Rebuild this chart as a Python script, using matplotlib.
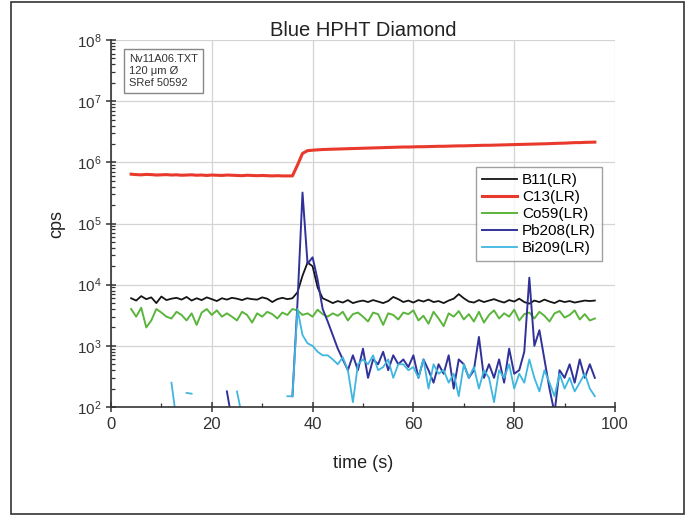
import numpy as np
import matplotlib
matplotlib.use("Agg")
import matplotlib.pyplot as plt
from matplotlib.patches import Rectangle
from matplotlib.ticker import LogLocator, NullFormatter, MultipleLocator

plt.rcParams['font.family'] = ['Liberation Sans', 'DejaVu Sans']

# acquisition time grid (s)
time = np.arange(4, 97, 1.0)
nan = np.nan

b11 = [6000, 5500, 6500, 5800, 6200, 5000, 6400, 5600, 5900, 6100, 5700, 6300, 5500,
       6000, 5600, 6200, 5800, 5400, 6000, 5700, 6100, 5900, 5600, 6000, 5800, 5700,
       6200, 5900, 5200, 5800, 6100, 5800, 6000,
       7500, 14000, 23000, 20000, 9000, 6000, 5500, 5000,
       5400, 5100, 5600, 5000, 5300, 5500, 5200, 5600, 5300, 5000, 5400, 6300, 5800,
       5200, 5500, 5100, 5600, 5300, 5700, 5200, 5400, 5000, 5500, 5900, 7000, 6000,
       5300, 5100, 5600, 5200, 5500, 5800, 5400, 5100, 5600, 5300, 5900, 5200, 4900,
       5500, 5200, 5700, 5300, 5000, 5500, 5200, 5400, 5100, 5300, 5500, 5400, 5500]

c13 = [640000, 630000, 625000, 635000, 630000, 620000, 625000, 630000, 620000, 625000,
       615000, 620000, 625000, 615000, 620000, 610000, 620000, 615000, 610000, 620000,
       615000, 610000, 605000, 615000, 610000, 605000, 610000, 605000, 600000, 605000,
       600000, 600000, 600000,
       900000, 1400000, 1550000, 1580000, 1600000, 1620000, 1630000, 1640000,
       1650000, 1660000, 1670000, 1680000, 1690000, 1700000, 1710000, 1720000, 1730000,
       1740000, 1750000, 1760000, 1770000, 1780000, 1780000, 1790000, 1800000, 1800000,
       1810000, 1820000, 1830000, 1830000, 1840000, 1850000, 1860000, 1860000, 1870000,
       1880000, 1890000, 1900000, 1900000, 1910000, 1920000, 1930000, 1940000, 1950000,
       1960000, 1970000, 1980000, 1990000, 2000000, 2010000, 2020000, 2040000, 2050000,
       2060000, 2080000, 2100000, 2100000, 2120000, 2130000, 2140000]

co59 = [4000, 3000, 4200, 2000, 2600, 4000, 3500, 3000, 2800, 3600, 3200, 2600, 3400,
        2200, 3500, 4000, 3200, 3800, 3000, 3400, 3000, 2600, 3600, 3200, 2400, 3400,
        3000, 3600, 3300, 2800, 3500, 3200, 4000,
        3800, 3200, 3400, 3000, 3900, 3300, 3000, 3400,
        3100, 3600, 2600, 3300, 3500, 3000, 2500, 3500, 3300, 2200, 3400, 3200, 2700,
        3500, 3300, 3800, 2600, 3100, 2300, 3600, 2800, 2100, 3400, 3000, 3700, 2700,
        3300, 2500, 3600, 2400, 3200, 3800, 2800, 3400, 3000, 3900, 2600, 3300, 3500,
        2800, 3600, 3100, 2500, 3400, 3700, 2900, 3200, 3800, 2700, 3300, 2600, 2800]

pb208 = [nan] * 19 + [180, 60] + [nan] * 11 + [150,
         5000, 320000, 22000, 28000, 12000, 4000, 2500, 1500,
         900, 600, 400, 700, 400, 900, 300, 600, 500, 800, 400, 700, 500,
         600, 450, 700, 300, 600, 400, 250, 500, 350, 700, 200, 600, 500,
         300, 400, 1400, 300, 500, 300, 600, 250, 900, 350, 400, 800, 13000,
         1000, 1800, 600, 200, 80, 400, 300, 500, 250, 600, 300, 500, 300]

bi209 = [nan] * 8 + [250, 60, nan, 170, 165] + [nan] * 8 + [180, 70] + [nan] * 8 + [150, 150,
         4000, 1500, 1100, 1000, 800, 700, 700, 600,
         500, 650, 400, 120, 500, 600, 500, 700, 400, 450, 600, 300, 500,
         500, 400, 450, 300, 600, 200, 500, 350, 400, 250, 350, 150, 500,
         300, 450, 200, 400, 300, 120, 400, 300, 500, 200, 350, 250, 600,
         300, 180, 400, 250, 150, 350, 200, 300, 180, 250, 350, 200, 150]

series = [
    ("B11(LR)", b11, "#151515", 1.3),
    ("C13(LR)", c13, "#e8392c", 2.2),
    ("Co59(LR)", co59, "#5bb53c", 1.4),
    ("Pb208(LR)", pb208, "#30329a", 1.4),
    ("Bi209(LR)", bi209, "#3fb6e0", 1.3),
]

fig = plt.figure(figsize=(6.88, 5.16), dpi=100)
ax = fig.add_axes([0.1613, 0.2112, 0.7326, 0.7113])

for label, vals, color, lw in series:
    ax.plot(time, np.asarray(vals, dtype=float), color=color, lw=lw, label=label)

ax.set_yscale("log")
ax.set_ylim(1e2, 1e8)
ax.set_xlim(0, 100)
ax.xaxis.set_major_locator(MultipleLocator(20))
ax.xaxis.set_minor_locator(MultipleLocator(10))
ax.yaxis.set_major_locator(LogLocator(base=10, numticks=10))
ax.yaxis.set_minor_locator(LogLocator(base=10, subs=np.arange(2, 10), numticks=100))
ax.yaxis.set_minor_formatter(NullFormatter())

ax.grid(True, which="major", color="#d4d4d4", lw=0.9)
ax.set_axisbelow(True)
for s in ("top", "right"):
    ax.spines[s].set_visible(False)
for s in ("left", "bottom"):
    ax.spines[s].set_color("#333333")
    ax.spines[s].set_linewidth(1.2)

ax.tick_params(which="major", direction="inout", length=7, width=1.1, colors="#333333",
               labelsize=12, labelcolor="#333333")
ax.tick_params(which="minor", direction="in", length=3, width=0.9, colors="#333333")
ax.tick_params(axis="y", labelsize=11)

ax.set_title("Blue HPHT Diamond", fontsize=14.5, color="#222222", pad=2)
ax.set_xlabel("time (s)", fontsize=13, color="#222222", labelpad=17)
ax.set_ylabel("cps", fontsize=13, color="#222222", labelpad=8)

leg = ax.legend(loc="upper right", bbox_to_anchor=(0.974, 0.654), borderaxespad=0,
                fontsize=11, frameon=True, fancybox=False, handlelength=2.3,
                handletextpad=0.3, borderpad=0.4, labelspacing=0.2)
leg.get_frame().set_edgecolor("#888888")
leg.get_frame().set_linewidth(1.0)

ax.text(0.036, 0.963, "Nv11A06.TXT\n120 μm Ø\nSRef 50592", transform=ax.transAxes,
        fontsize=8.0, va="top", ha="left", color="#333333", linespacing=1.3,
        bbox=dict(boxstyle="square,pad=0.45", fc="white", ec="#888888", lw=1.0))

fig.patches.append(Rectangle((0.016, 0.004), 0.978, 0.992, transform=fig.transFigure,
                             fill=False, ec="#333333", lw=1.2))

fig.savefig("out.png", dpi=100)
